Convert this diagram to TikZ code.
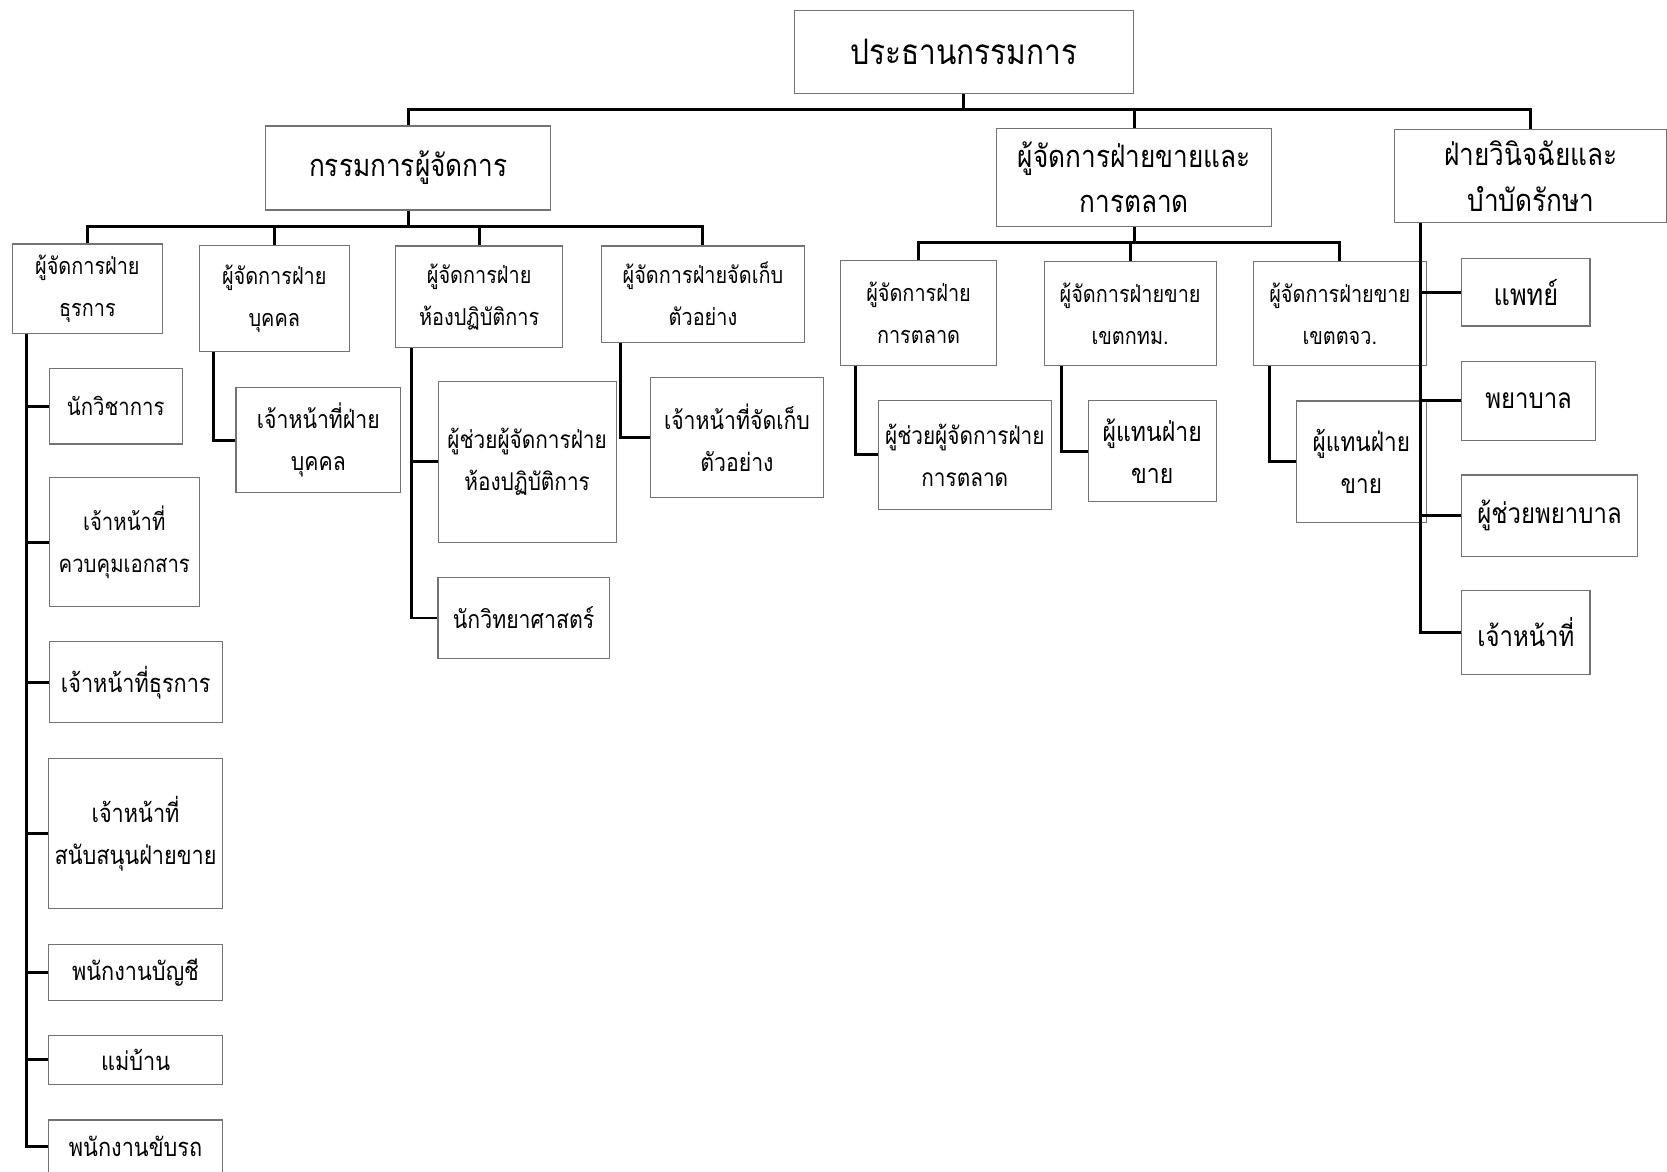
\documentclass[tikz,border=0pt]{standalone}
\usepackage{fontspec}
\newfontfamily\thaifont[Script=Thai,FakeStretch=0.85]{Loma}
\begin{document}
\begin{tikzpicture}[x=1pt,y=-1pt,
  box/.style={draw=black!55, line width=1pt, inner sep=0pt, align=center, text=black},
  big/.style={font=\thaifont\fontsize{33}{44}\selectfont},
  mid/.style={font=\thaifont\fontsize{29}{43}\selectfont},
  fsz/.style={font=\thaifont\fontsize{#1}{39.5}\selectfont},
  sml/.style={fsz=22},
  conn/.style={line width=2.8pt, black}]
\useasboundingbox (0,0) rectangle (1568,1102);
\fill[white] (0,0) rectangle (1568,1102);
\clip (0,0) rectangle (1568,1102);
\coordinate (bus1) at (0,103);
\coordinate (bus2) at (0,213);
\coordinate (bus3) at (0,228);
% level 1
\node[box,big,minimum width=319pt,minimum height=78pt] (top) at (906.5,49) {ประธานกรรมการ};
% level 2
\node[box,mid,minimum width=268pt,minimum height=79pt] (md) at (384,158) {กรรมการผู้จัดการ};
\node[box,mid,minimum width=258.5pt,minimum height=92.5pt] (sm) at (1066.8,166.8) {ผู้จัดการฝ่ายขายและ\\การตลาด};
\node[box,mid,minimum width=256pt,minimum height=88pt] (vd) at (1440,165.5) {ฝ่ายวินิจฉัยและ\\บำบัดรักษา};
% level 3
\node[box,sml,minimum width=141pt,minimum height=84pt] (adm) at (82.2,271.5) {ผู้จัดการฝ่าย\\ธุรการ};
\node[box,sml,minimum width=141pt,minimum height=100pt] (hr) at (258,280.6) {ผู้จัดการฝ่าย\\บุคคล};
\node[box,sml,minimum width=156.6pt,minimum height=95.6pt] (lab) at (450.7,279.2) {ผู้จัดการฝ่าย\\ห้องปฏิบัติการ};
\node[box,sml,minimum width=191.5pt,minimum height=90.6pt] (smp) at (661.2,276.7) {ผู้จัดการฝ่ายจัดเก็บ\\ตัวอย่าง};
\node[box,sml,minimum width=147pt,minimum height=98pt] (mkt) at (864,294.4) {ผู้จัดการฝ่าย\\การตลาด};
\node[box,sml,minimum width=161.6pt,minimum height=98pt] (bkk) at (1063,295) {ผู้จัดการฝ่ายขาย\\เขตกทม.};
\node[box,sml,minimum width=162.5pt,minimum height=98.5pt] (prv) at (1260.2,294.8) {ผู้จัดการฝ่ายขาย\\เขตตจว.};
% admin children
\node[box,fsz=22.5,minimum width=125pt,minimum height=70.6pt] (a1) at (108.8,382.3) {นักวิชาการ};
\node[box,fsz=22.5,minimum width=141pt,minimum height=121.7pt] (a2) at (116.9,509.9) {เจ้าหน้าที่\\ควบคุมเอกสาร};
\node[box,fsz=24,minimum width=162.6pt,minimum height=76.2pt] (a3) at (127.7,641.7) {เจ้าหน้าที่ธุรการ};
\node[box,fsz=24,minimum width=163pt,minimum height=141.4pt] (a4) at (127.5,784) {เจ้าหน้าที่\\สนับสนุนฝ่ายขาย};
\node[box,fsz=24,minimum width=163pt,minimum height=52.7pt] (a5) at (127.5,914.4) {พนักงานบัญชี};
\node[box,fsz=24,minimum width=163pt,minimum height=46pt] (a6) at (127.5,997) {แม่บ้าน};
\node[box,fsz=24,minimum width=163pt,minimum height=49pt] (a7) at (127.5,1078) {พนักงานขับรถ};
% other children
\node[box,fsz=23.5,minimum width=154.8pt,minimum height=98.7pt] (h1) at (299.4,414) {เจ้าหน้าที่ฝ่าย\\บุคคล};
\node[box,fsz=23,minimum width=167.5pt,minimum height=151pt] (l1) at (495.8,434.5) {ผู้ช่วยผู้จัดการฝ่าย\\ห้องปฏิบัติการ};
\node[box,fsz=23.5,minimum width=161pt,minimum height=75.8pt] (l2) at (492.5,581.3) {นักวิทยาศาสตร์};
\node[box,fsz=23.5,minimum width=162.4pt,minimum height=112.8pt] (s1) at (693.2,411.4) {เจ้าหน้าที่จัดเก็บ\\ตัวอย่าง};
\node[box,fsz=23,minimum width=162.6pt,minimum height=101.9pt] (m1) at (907.5,427.9) {ผู้ช่วยผู้จัดการฝ่าย\\การตลาด};
\node[box,fsz=25.5,minimum width=120.3pt,minimum height=95pt] (b1) at (1083.7,424.5) {ผู้แทนฝ่าย\\ขาย};
\node[box,fsz=25,minimum width=122pt,minimum height=114.4pt] (p1) at (1280.5,434.4) {ผู้แทนฝ่าย\\ขาย};
\node[box,fsz=28,minimum width=120.5pt,minimum height=63.3pt] (d1) at (1435.3,275) {แพทย์};
\node[box,fsz=26.5,minimum width=125.6pt,minimum height=74pt] (d2) at (1437.8,377) {พยาบาล};
\node[box,fsz=26.5,minimum width=165pt,minimum height=76.8pt] (d3) at (1457.5,485.2) {ผู้ช่วยพยาบาล};
\node[box,fsz=26.5,minimum width=120.5pt,minimum height=78.4pt] (d4) at (1435.3,594.8) {เจ้าหน้าที่};
% connectors level 1-2
\draw[conn] (md.north) |- (vd.north |- bus1) -- (vd.north);
\draw[conn] (top.south) -- (top.south |- bus1);
\draw[conn] (sm.north) -- (sm.north |- bus1);
% md bus
\draw[conn] (adm.north) |- (smp.north |- bus2) -- (smp.north);
\draw[conn] (md.south) -- (md.south |- bus2);
\draw[conn] (hr.north) -- (hr.north |- bus2);
\draw[conn] (lab.north) -- (lab.north |- bus2);
% sales bus
\draw[conn] (mkt.north) |- (prv.north |- bus3) -- (prv.north);
\draw[conn] (sm.south) -- (sm.south |- bus3);
\draw[conn] (bkk.north) -- (bkk.north |- bus3);
% side branches
\foreach \c in {a1,a2,a3,a4,a5,a6,a7}
  \draw[conn] ([xshift=13.4pt]adm.south west) |- (\c.west);
\draw[conn] ([xshift=14pt]hr.south west) |- (h1.west);
\foreach \c in {l1,l2}
  \draw[conn] ([xshift=15.6pt]lab.south west) |- (\c.west);
\draw[conn] ([xshift=19pt]smp.south west) |- (s1.west);
\draw[conn] ([xshift=14.4pt]mkt.south west) |- (m1.west);
\draw[conn] ([xshift=16.3pt]bkk.south west) |- (b1.west);
\draw[conn] ([xshift=15.6pt]prv.south west) |- (p1.west);
\foreach \c in {d1,d2,d3,d4}
  \draw[conn] ([xshift=25pt]vd.south west) |- (\c.west);
\end{tikzpicture}
\end{document}
